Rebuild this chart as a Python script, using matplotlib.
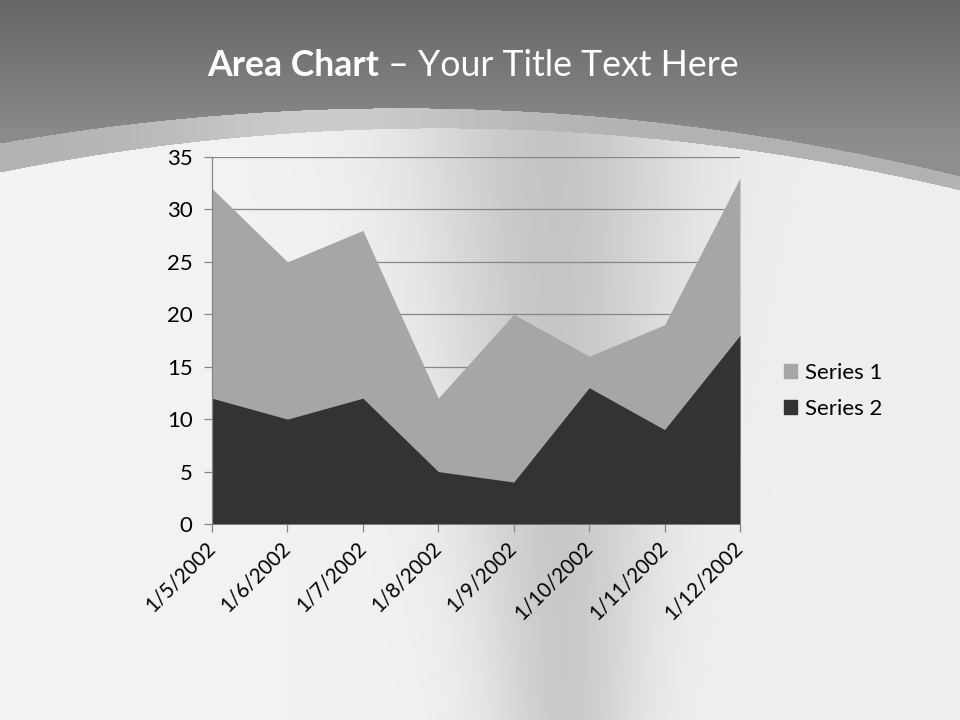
import numpy as np
import matplotlib
matplotlib.use('Agg')
import matplotlib.pyplot as plt
from matplotlib.patches import Patch

# ---- data ----
categories = ['1/5/2002', '1/6/2002', '1/7/2002', '1/8/2002',
              '1/9/2002', '1/10/2002', '1/11/2002', '1/12/2002']
series1 = [32, 25, 28, 12, 20, 16, 19, 33]
series2 = [12, 10, 12, 5, 4, 13, 9, 18]
series_names = ['Series 1', 'Series 2']
yticks = [0, 5, 10, 15, 20, 25, 30, 35]

FONT = ['Lato', 'DejaVu Sans']
plt.rcParams['font.family'] = FONT

W, H = 960, 720
fig = plt.figure(figsize=(9.6, 7.2), dpi=100)

# ---- background (slide decoration) ----
bg = fig.add_axes([0, 0, 1, 1])
bg.axis('off')
yy, xx = np.mgrid[0:H, 0:W].astype(float)
outer = np.polyval(np.polyfit([0, 430, 960], [143, 108, 176], 2), xx)
inner = np.polyval(np.polyfit([0, 420, 960], [172, 128, 190], 2), xx)

header = 0.40 + 0.16 * np.clip(yy / 150, 0, 1)
band = 0.70 + 0.10 * np.exp(-((xx - 330) / 170) ** 2)
t = np.clip((yy - 150) / 570, 0, 1)
cx = 550 + 15 * t
sx = 135 - 60 * t
amp = 0.17 - 0.02 * t
body = 0.955 - amp * np.exp(-((xx - cx) / sx) ** 2) - 0.02 * (xx / W)
img = np.where(yy < outer, header, np.where(yy < inner, band, body))
bg.imshow(np.dstack([img] * 3), extent=[0, W, H, 0], aspect='auto',
          interpolation='bilinear')
bg.set_xlim(0, W)
bg.set_ylim(H, 0)

# ---- title ----
t1 = fig.text(207 / W, 1 - 76 / H, 'Area Chart', color='white',
              fontsize=25.7, fontweight='bold', ha='left', va='baseline')
fig.canvas.draw()
bb = t1.get_window_extent()
fig.text(bb.x1 / W, 1 - 76 / H, ' \u2013 Your Title Text Here', color='white',
         fontsize=25.7, ha='left', va='baseline')

# ---- chart ----
ax = fig.add_axes([212 / W, 1 - 524 / H, 528 / W, 367 / H])
ax.patch.set_alpha(0)
x = np.arange(len(categories))
ax.fill_between(x, series1, 0, color='#a6a6a6', lw=0, zorder=2)
ax.fill_between(x, series2, 0, color='#333333', lw=0, zorder=3)
ax.set_xlim(0, len(categories) - 1)
ax.set_ylim(0, 35)
ax.set_yticks(yticks)
ax.set_xticks(x)
ax.set_xticklabels(categories, rotation=45, ha='right', va='center',
                   rotation_mode='anchor')
ax.yaxis.grid(True, color='#868686', lw=0.9, zorder=1)
ax.set_axisbelow(True)
for s in ['top', 'right', 'bottom']:
    ax.spines[s].set_visible(False)
ax.spines['left'].set_color('#868686')
ax.spines['left'].set_linewidth(0.9)
ax.spines['left'].set_zorder(4)
ax.tick_params(axis='both', colors='#868686', labelcolor='black',
               length=6, width=0.9)
ax.tick_params(axis='y', pad=8, labelsize=16)
ax.tick_params(axis='x', pad=9, labelsize=14.8)

handles = [Patch(color='#a6a6a6'), Patch(color='#333333')]
fig.legend(handles, series_names, loc='center left',
           bbox_to_anchor=(784 / W, 1 - 391 / H), bbox_transform=fig.transFigure,
           frameon=False, fontsize=16, handlelength=0.6, handleheight=0.6,
           handletextpad=0.35, labelspacing=0.7, borderpad=0, borderaxespad=0)

fig.savefig('out.png', dpi=100)
